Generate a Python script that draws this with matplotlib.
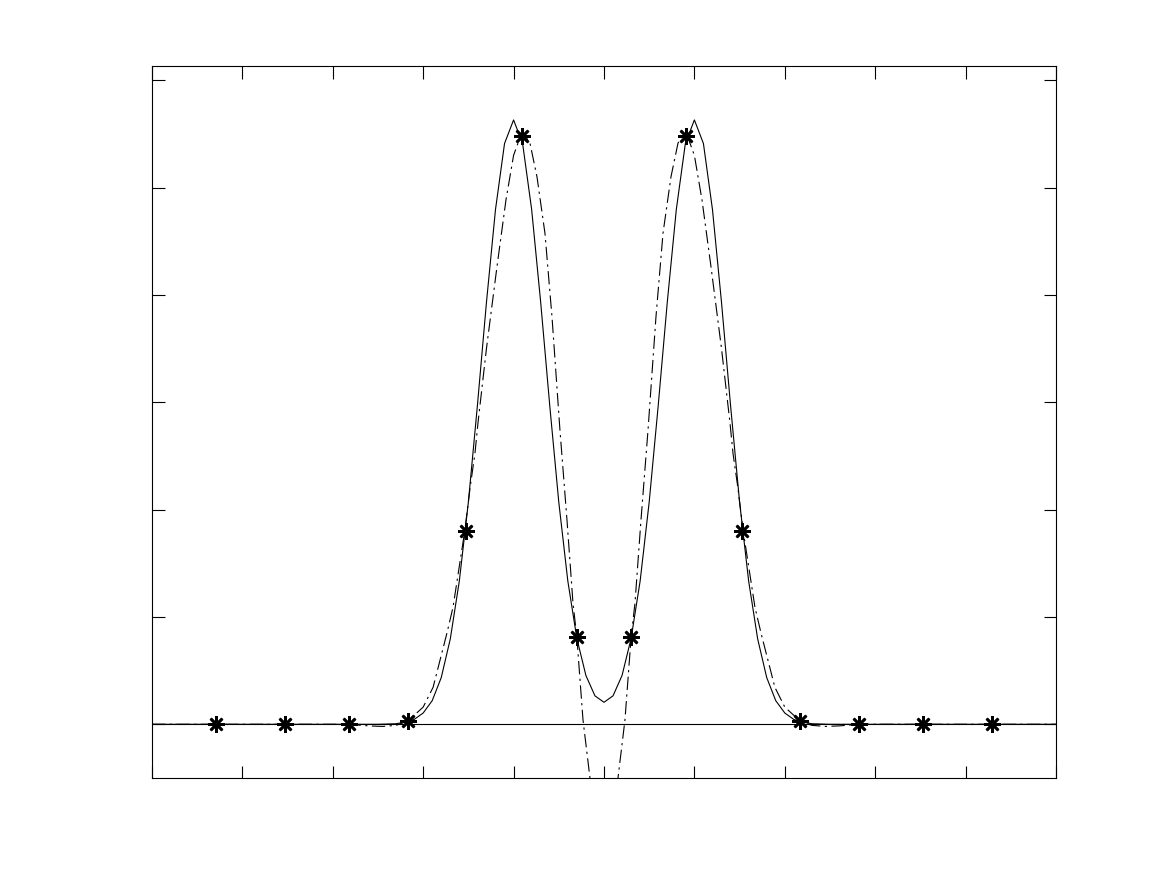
import matplotlib
matplotlib.use('Agg')
import matplotlib.pyplot as plt

# solid curve (function), right half; mirrored for the left half
x_f_half = [0.0, 0.1, 0.2, 0.3, 0.4, 0.5, 0.6, 0.7, 0.8, 0.9, 1.0, 1.1, 1.2, 1.3, 1.4,
            1.5, 1.6, 1.7, 1.8, 1.9, 2.0, 2.1, 2.2, 2.3, 2.5, 3.0, 4.0, 5.0]
y_f_half = [0.041, 0.053, 0.091, 0.160, 0.267, 0.414, 0.594, 0.786, 0.959, 1.082, 1.126,
            1.082, 0.959, 0.786, 0.594, 0.414, 0.267, 0.159, 0.087, 0.044, 0.021, 0.009,
            0.004, 0.001, 0.0, 0.0, 0.0, 0.0]

# dash-dot curve (interpolant), right half
x_p_half = [0.0, 0.1, 0.155, 0.232, 0.30, 0.343, 0.409, 0.487, 0.575, 0.653, 0.741, 0.819,
            0.87, 0.918, 1.0, 1.084, 1.184, 1.30, 1.394, 1.427, 1.48, 1.54, 1.67, 1.737,
            1.89, 2.00, 2.17, 2.30, 2.45, 2.60, 2.82, 3.2, 3.53, 4.29, 5.0]
y_p_half = [-0.20, -0.16, -0.10, 0.008, 0.162, 0.226, 0.380, 0.548, 0.759, 0.915, 1.020,
            1.083, 1.096, 1.098, 1.060, 0.977, 0.852, 0.700, 0.561, 0.505, 0.442, 0.360,
            0.218, 0.170, 0.069, 0.032, 0.006, -0.002, -0.004, -0.003, 0.0, 0.0, 0.0,
            0.0, 0.0]

# interpolation nodes (asterisks)
x_nodes = [-4.29, -3.53, -2.82, -2.17, -1.53, -0.91, -0.30,
           0.30, 0.91, 1.53, 2.17, 2.82, 3.53, 4.29]
y_nodes = [0.0, 0.0, 0.0, 0.006, 0.360, 1.096, 0.162,
           0.162, 1.096, 0.360, 0.006, 0.0, 0.0, 0.0]

x_f = [-v for v in x_f_half[::-1]] + x_f_half[1:]
y_f = y_f_half[::-1] + y_f_half[1:]
x_p = [-v for v in x_p_half[::-1]] + x_p_half[1:]
y_p = y_p_half[::-1] + y_p_half[1:]

fig = plt.figure(figsize=(11.67, 8.75), dpi=100)
ax = fig.add_axes([0.1302, 0.1109, 0.7747, 0.8137])

ax.plot(x_f, y_f, color='black', lw=0.8)
ax.plot(x_p, y_p, color='black', lw=0.8, linestyle=(0, (12, 4, 2, 4)))
ax.plot(x_nodes, y_nodes, linestyle='none', marker=(8, 2, 0), markersize=12,
        markeredgewidth=1.9, color='black')
ax.axhline(0, color='black', lw=0.8)

ax.set_xlim(-5, 5)
ax.set_ylim(-0.1, 1.2265)
ax.set_xticks([-5, -4, -3, -2, -1, 0, 1, 2, 3, 4, 5])
ax.set_yticks([0, 0.2, 0.4, 0.6, 0.8, 1.0, 1.2])
ax.tick_params(direction='in', length=9, width=0.8, top=True, right=True,
               labelbottom=False, labelleft=False)
for s in ax.spines.values():
    s.set_linewidth(0.8)

fig.savefig('out.png', dpi=100)
